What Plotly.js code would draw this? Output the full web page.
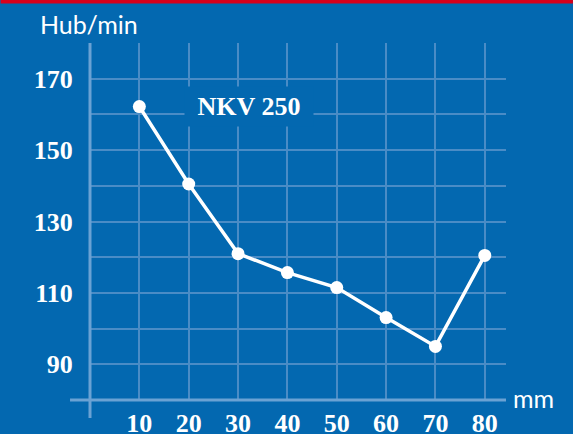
<!DOCTYPE html>
<html>
<head>
<meta charset="utf-8">
<script src="https://cdn.plot.ly/plotly-3.0.1.min.js"></script>
<style>
html,body{margin:0;padding:0;background:#0368b0;}
#chart{width:573px;height:434px;}
</style>
</head>
<body>
<div id="chart"></div>
<script>
// Data
const strokeMm = [10, 20, 30, 40, 50, 60, 70, 80];
const strokesPerMin = [162.2, 140.5, 121.0, 115.7, 111.5, 103.1, 95.0, 120.5];
const seriesName = 'NKV 250';
const yTickVals = [90, 100, 110, 120, 130, 140, 150, 160, 170];
const yTickText = ['90', '', '110', '', '130', '', '150', '', '170'];
const xTickVals = [10, 20, 30, 40, 50, 60, 70, 80];
const xTickText = ['10', '20', '30', '40', '50', '60', '70', '80'];
const yAxisTitle = 'Hub/min';
const xAxisTitle = 'mm';

const BG = '#0368b0';
const GRID = '#4a8cc6';
const AXIS = '#6aa2d4';
const numFont = {family: 'Liberation Serif, serif', size: 26, color: '#ffffff', weight: 'bold'};

const plotH = 357; // px height of plot area (for paper coords of decorations)
const plotW = 416.5;

const trace = {
  x: strokeMm,
  y: strokesPerMin,
  type: 'scatter',
  mode: 'lines+markers',
  name: seriesName,
  line: {color: '#ffffff', width: 3.5},
  marker: {color: '#ffffff', size: 13},
  cliponaxis: false,
  hoverinfo: 'skip'
};

const layout = {
  width: 573,
  height: 434,
  paper_bgcolor: BG,
  plot_bgcolor: BG,
  showlegend: false,
  margin: {l: 89.5, r: 67, t: 43, b: 34, pad: 0},
  xaxis: {
    range: [0, 84.3],
    tickvals: xTickVals,
    ticktext: xTickText,
    showgrid: true,
    gridcolor: GRID,
    gridwidth: 2,
    zeroline: false,
    showline: false,
    ticks: 'outside',
    ticklen: 0,
    tickcolor: 'rgba(0,0,0,0)',
    tickfont: numFont,
    fixedrange: true
  },
  yaxis: {
    range: [80, 180],
    tickvals: yTickVals,
    ticktext: yTickText,
    showgrid: true,
    gridcolor: GRID,
    gridwidth: 2,
    zeroline: false,
    showline: false,
    ticks: 'outside',
    ticklen: 11,
    tickcolor: 'rgba(0,0,0,0)',
    tickfont: numFont,
    fixedrange: true
  },
  shapes: [
    // red band at top
    {type: 'rect', xref: 'paper', yref: 'paper', x0: -89.5/plotW, x1: 1 + 67/plotW,
     y0: 1 + 39.5/plotH, y1: 1 + 43/plotH, fillcolor: '#d8001c', line: {width: 0}},
    // y axis line (extends below x axis)
    {type: 'line', xref: 'paper', yref: 'paper', x0: 0, x1: 0, y0: -18/plotH, y1: 1,
     line: {color: AXIS, width: 3}},
    // x axis line (extends left of y axis)
    {type: 'line', xref: 'paper', yref: 'paper', x0: -20/plotW, x1: 1, y0: 0, y1: 0,
     line: {color: AXIS, width: 3}}
  ],
  annotations: [
    {text: '<b>' + seriesName + '</b>', xref: 'x', yref: 'y', x: 32.3, y: 162.3,
     showarrow: false, bgcolor: BG, width: 126, height: 37,
     font: {family: 'Liberation Serif, serif', size: 26, color: '#ffffff'}},
    {text: yAxisTitle, xref: 'paper', yref: 'paper', x: -52/plotW, y: 1 + 19/plotH,
     xanchor: 'left', yanchor: 'middle', showarrow: false,
     font: {family: 'Lato, sans-serif', size: 25, color: '#ffffff'}},
    {text: xAxisTitle, xref: 'paper', yref: 'paper', x: 1 + 5/plotW, y: 0,
     xanchor: 'left', yanchor: 'middle', yshift: 2, showarrow: false,
     font: {family: 'Lato, sans-serif', size: 25, color: '#ffffff'}}
  ]
};

Plotly.newPlot('chart', [trace], layout, {displayModeBar: false, staticPlot: true});
</script>
</body>
</html>
